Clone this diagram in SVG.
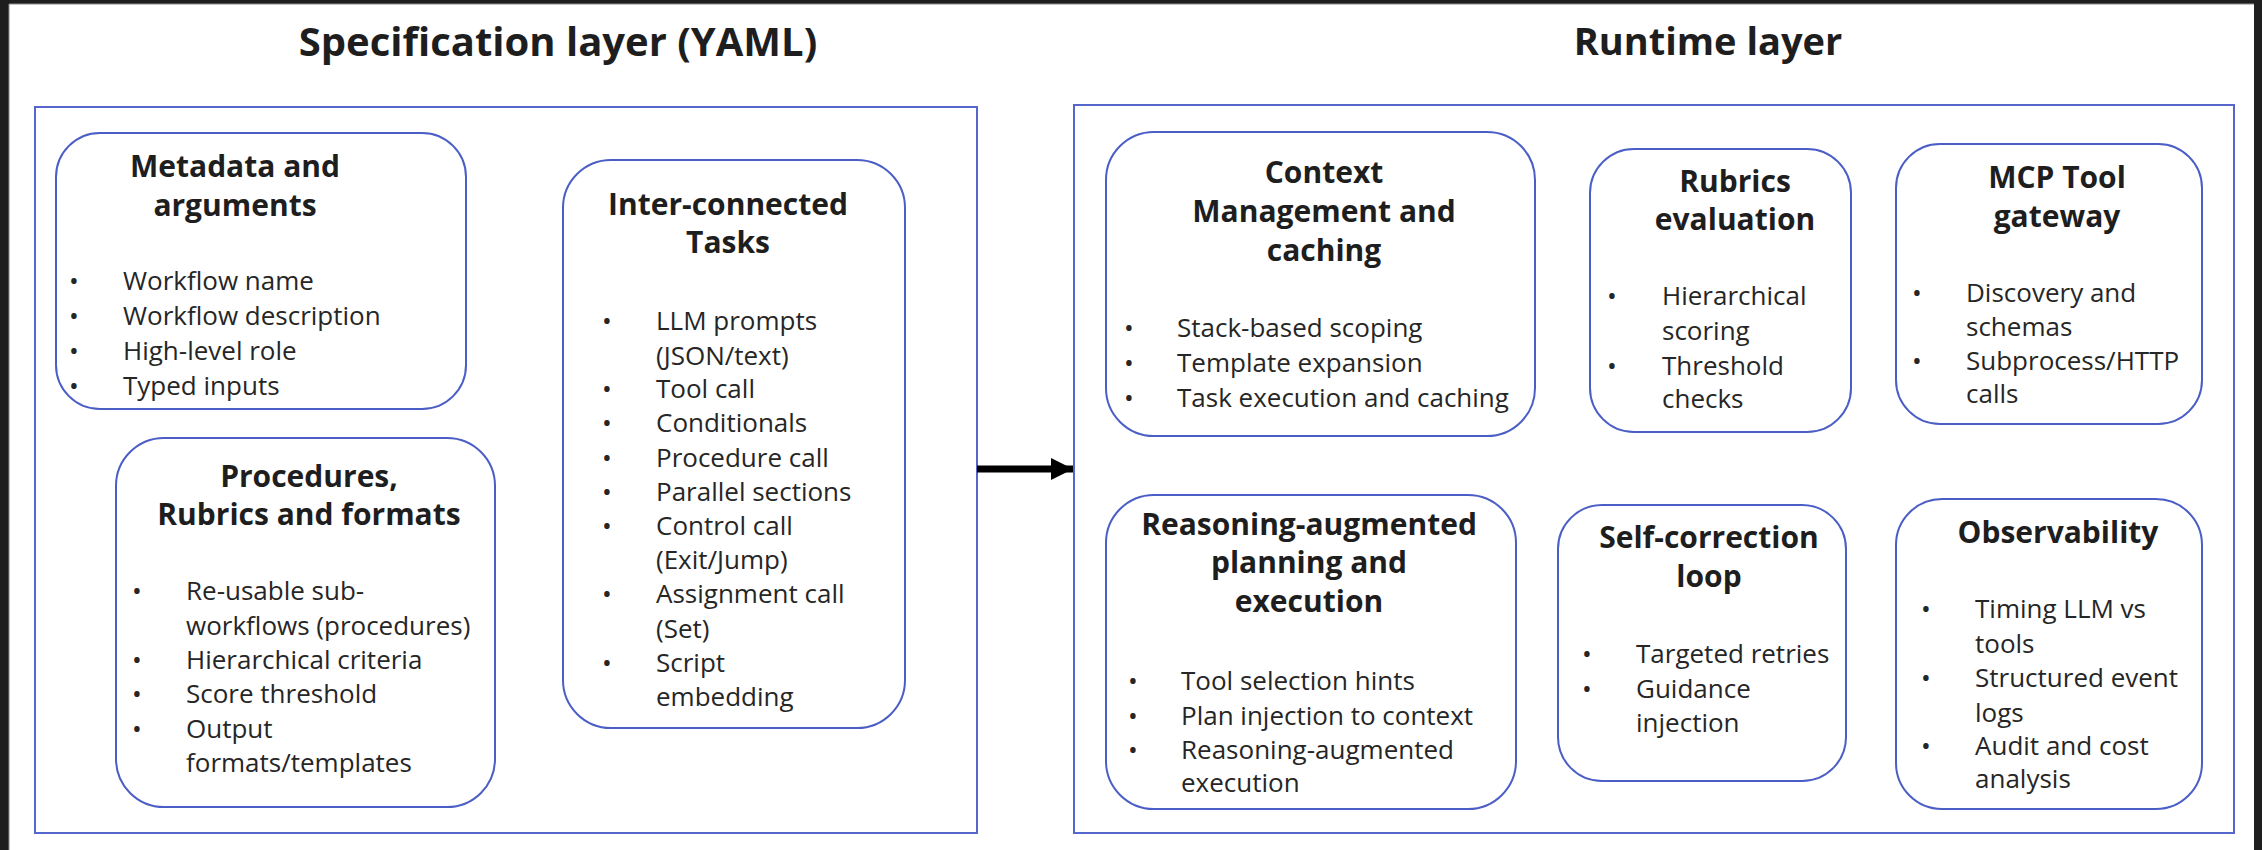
<svg xmlns="http://www.w3.org/2000/svg" width="2262" height="850" viewBox="0 0 2262 850">
<defs>
<style>
.frame{fill:#1e1e1e}
.page{fill:#ffffff}
.layer{fill:none;stroke:#5566cc;stroke-width:2}
.node{fill:#ffffff;stroke:#4b5ec6;stroke-width:2}
.h1{font-family:"Open Sans","Noto Sans",sans-serif;font-weight:700;font-size:38px;fill:#1e1e1e;text-anchor:middle}
.h2{font-family:"Open Sans","Noto Sans",sans-serif;font-weight:700;font-size:30px;fill:#1e1e1e;text-anchor:middle}
.t{font-family:"Open Sans","Noto Sans",sans-serif;font-size:26px;fill:#262626}
.b{font-family:"Open Sans","Noto Sans",sans-serif;font-size:26px;fill:#262626;text-anchor:middle}
.conn{stroke:#000000;stroke-width:7;fill:none}
</style>
<marker id="ah" viewBox="0 0 22 22" refX="22" refY="11" markerWidth="22" markerHeight="22" markerUnits="userSpaceOnUse" orient="auto">
<path d="M0,0 L22,11 L0,22 Z" fill="#000000"/>
</marker>
</defs>
<rect class="frame" x="0" y="0" width="2262" height="850"/>
<rect class="page" x="9" y="4" width="2245" height="846"/>
<line x1="9" y1="4" x2="9" y2="850" stroke="#8a8a8a" stroke-width="1"/>
<line x1="9" y1="4" x2="2254" y2="4" stroke="#8a8a8a" stroke-width="1"/>

<g id="titles">
<text class="h1" x="558" y="56" style="font-size:40px">Specification layer (YAML)</text>
<text class="h1" x="1708" y="55">Runtime layer</text>
</g>

<g id="specification-layer">
<rect class="layer" x="35" y="107" width="942" height="726"/>
</g>
<g id="runtime-layer">
<rect class="layer" x="1074" y="105" width="1160" height="728"/>
</g>

<g id="connectors">
<line class="conn" x1="977" y1="469" x2="1073" y2="469" marker-end="url(#ah)"/>
</g>

<g id="metadata">
<rect class="node" x="56" y="133" width="410" height="276" rx="44" ry="44"/>
<text class="h2" x="235" y="177">Metadata and</text>
<text class="h2" x="235" y="216">arguments</text>
<text class="b" x="74" y="290">•</text><text class="t" x="123" y="290">Workflow name</text>
<text class="b" x="74" y="325">•</text><text class="t" x="123" y="325">Workflow description</text>
<text class="b" x="74" y="360">•</text><text class="t" x="123" y="360">High-level role</text>
<text class="b" x="74" y="395">•</text><text class="t" x="123" y="395">Typed inputs</text>
</g>

<g id="tasks">
<rect class="node" x="563" y="160" width="342" height="568" rx="48" ry="48"/>
<text class="h2" x="728" y="215">Inter-connected</text>
<text class="h2" x="728" y="253">Tasks</text>
<text class="b" x="607" y="330">•</text><text class="t" x="656" y="330">LLM prompts</text>
<text class="t" x="656" y="365">(JSON/text)</text>
<text class="b" x="607" y="398">•</text><text class="t" x="656" y="398">Tool call</text>
<text class="b" x="607" y="432">•</text><text class="t" x="656" y="432">Conditionals</text>
<text class="b" x="607" y="467">•</text><text class="t" x="656" y="467">Procedure call</text>
<text class="b" x="607" y="501">•</text><text class="t" x="656" y="501">Parallel sections</text>
<text class="b" x="607" y="535">•</text><text class="t" x="656" y="535">Control call</text>
<text class="t" x="656" y="569">(Exit/Jump)</text>
<text class="b" x="607" y="603">•</text><text class="t" x="656" y="603">Assignment call</text>
<text class="t" x="656" y="638">(Set)</text>
<text class="b" x="607" y="672">•</text><text class="t" x="656" y="672">Script</text>
<text class="t" x="656" y="706">embedding</text>
</g>

<g id="procedures">
<rect class="node" x="116" y="438" width="379" height="369" rx="48" ry="48"/>
<text class="h2" x="309" y="487">Procedures,</text>
<text class="h2" x="309" y="525">Rubrics and formats</text>
<text class="b" x="137" y="600">•</text><text class="t" x="186" y="600">Re-usable sub-</text>
<text class="t" x="186" y="635">workflows (procedures)</text>
<text class="b" x="137" y="669">•</text><text class="t" x="186" y="669">Hierarchical criteria</text>
<text class="b" x="137" y="703">•</text><text class="t" x="186" y="703">Score threshold</text>
<text class="b" x="137" y="738">•</text><text class="t" x="186" y="738">Output</text>
<text class="t" x="186" y="772">formats/templates</text>
</g>

<g id="context">
<rect class="node" x="1106" y="132" width="429" height="304" rx="48" ry="48"/>
<text class="h2" x="1324" y="183">Context</text>
<text class="h2" x="1324" y="222">Management and</text>
<text class="h2" x="1324" y="261">caching</text>
<text class="b" x="1129" y="337">•</text><text class="t" x="1177" y="337">Stack-based scoping</text>
<text class="b" x="1129" y="372">•</text><text class="t" x="1177" y="372">Template expansion</text>
<text class="b" x="1129" y="407">•</text><text class="t" x="1177" y="407">Task execution and caching</text>
</g>

<g id="rubrics">
<rect class="node" x="1590" y="149" width="261" height="283" rx="44" ry="44"/>
<text class="h2" x="1735" y="192">Rubrics</text>
<text class="h2" x="1735" y="230">evaluation</text>
<text class="b" x="1612" y="305">•</text><text class="t" x="1662" y="305">Hierarchical</text>
<text class="t" x="1662" y="340">scoring</text>
<text class="b" x="1612" y="375">•</text><text class="t" x="1662" y="375">Threshold</text>
<text class="t" x="1662" y="408">checks</text>
</g>

<g id="mcp">
<rect class="node" x="1896" y="144" width="306" height="280" rx="44" ry="44"/>
<text class="h2" x="2057" y="188">MCP Tool</text>
<text class="h2" x="2057" y="227">gateway</text>
<text class="b" x="1917" y="302">•</text><text class="t" x="1966" y="302">Discovery and</text>
<text class="t" x="1966" y="336">schemas</text>
<text class="b" x="1917" y="370">•</text><text class="t" x="1966" y="370">Subprocess/HTTP</text>
<text class="t" x="1966" y="403">calls</text>
</g>

<g id="reasoning">
<rect class="node" x="1106" y="495" width="410" height="314" rx="48" ry="48"/>
<text class="h2" x="1309" y="535">Reasoning-augmented</text>
<text class="h2" x="1309" y="573">planning and</text>
<text class="h2" x="1309" y="612">execution</text>
<text class="b" x="1133" y="690">•</text><text class="t" x="1181" y="690">Tool selection hints</text>
<text class="b" x="1133" y="725">•</text><text class="t" x="1181" y="725">Plan injection to context</text>
<text class="b" x="1133" y="759">•</text><text class="t" x="1181" y="759">Reasoning-augmented</text>
<text class="t" x="1181" y="792">execution</text>
</g>

<g id="self-correction">
<rect class="node" x="1558" y="505" width="288" height="276" rx="44" ry="44"/>
<text class="h2" x="1709" y="548">Self-correction</text>
<text class="h2" x="1709" y="587">loop</text>
<text class="b" x="1587" y="663">•</text><text class="t" x="1636" y="663">Targeted retries</text>
<text class="b" x="1587" y="698">•</text><text class="t" x="1636" y="698">Guidance</text>
<text class="t" x="1636" y="732">injection</text>
</g>

<g id="observability">
<rect class="node" x="1896" y="499" width="306" height="310" rx="46" ry="46"/>
<text class="h2" x="2058" y="543">Observability</text>
<text class="b" x="1926" y="618">•</text><text class="t" x="1975" y="618">Timing LLM vs</text>
<text class="t" x="1975" y="653">tools</text>
<text class="b" x="1926" y="687">•</text><text class="t" x="1975" y="687">Structured event</text>
<text class="t" x="1975" y="722">logs</text>
<text class="b" x="1926" y="755">•</text><text class="t" x="1975" y="755">Audit and cost</text>
<text class="t" x="1975" y="788">analysis</text>
</g>
</svg>
